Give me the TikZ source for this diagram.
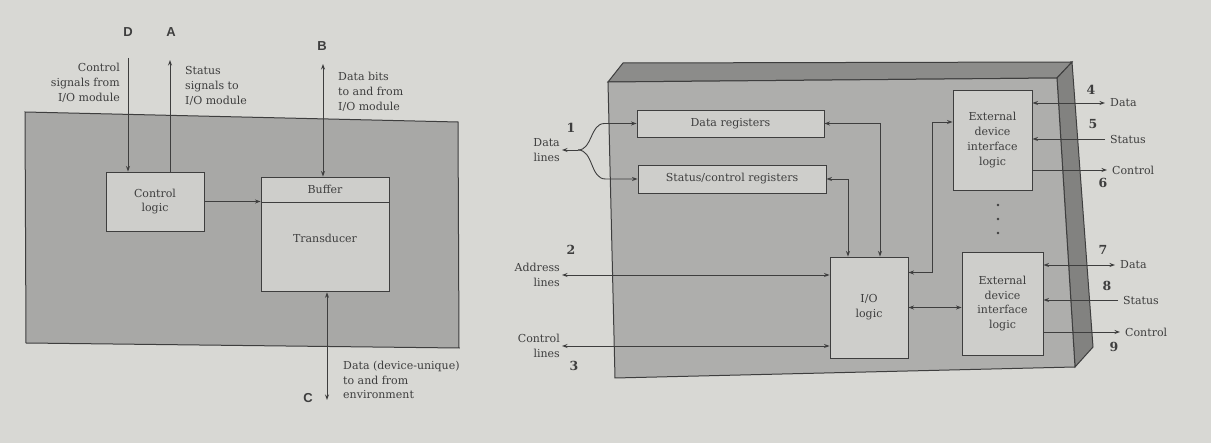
\documentclass[tikz,border=0pt]{standalone}
\usepackage{xcolor}
\usepackage{tikz}
\usepackage{fontspec}
\setmainfont{DejaVu Serif}
\newfontfamily\lettersf{Liberation Sans}
\usetikzlibrary{arrows.meta,calc}

\definecolor{paper}{RGB}{216,216,212}
\definecolor{panel}{RGB}{168,168,166}
\definecolor{boxfill}{RGB}{206,206,203}
\definecolor{inkgray}{RGB}{62,62,62}
\definecolor{topface}{RGB}{140,140,138}
\definecolor{sideface}{RGB}{130,130,128}
\definecolor{frontface}{RGB}{174,174,172}

\begin{document}
\begin{tikzpicture}[x=1pt,y=-1pt,>={Stealth[length=5.5pt,width=4pt]},
    every node/.style={text=inkgray,font=\fontsize{11}{14.8}\selectfont},
    unit/.style={draw=inkgray,fill=boxfill,line width=0.9pt,inner sep=0pt,align=center},
    lbl/.style={align=left,inner sep=2pt},
    sig/.style={anchor=west,inner sep=5pt},
    num/.style={font=\fontsize{12.5}{12.5}\selectfont\bfseries},
    port/.style={font=\fontsize{13}{13}\selectfont\lettersf\bfseries},
    conn/.style={draw=inkgray,line width=0.9pt}]

\useasboundingbox[fill=paper] (0,0) rectangle (1211,443);

% I/O device (left)
\draw[draw=inkgray,fill=panel,line width=1pt] (25,112) -- (458,122) -- (459,348) -- (26,343) -- cycle;
\node[unit,minimum width=98pt,minimum height=59pt] (ctrl) at (155,201.5) {Control\\logic};
\node[unit,minimum width=128pt,minimum height=25pt] (buffer) at (325,189.5) {Buffer};
\node[unit,minimum width=128pt,minimum height=89pt,anchor=north,text depth=18pt] (transd) at (buffer.south) {Transducer};

\coordinate (dtop) at (128,58);
\coordinate (atop) at (170,60);
\coordinate (btop) at (323,64);
\coordinate (cbot) at (327,400);
\draw[conn,->] (dtop) -- (dtop |- ctrl.north);
\draw[conn,->] (atop |- ctrl.north) -- (atop);
\draw[conn,<->] (btop) -- (btop |- buffer.north);
\draw[conn,<->] (cbot |- transd.south) -- (cbot);
\draw[conn,->] (ctrl.east) -- (ctrl.east -| buffer.west);

\node[lbl,align=right,anchor=east] (ctrlsig) at (122,83) {Control\\signals from\\I/O module};
\node[lbl,anchor=west] (statsig) at (183,86) {Status\\signals to\\I/O module};
\node[lbl,anchor=west] (databits) at (336,92) {Data bits\\to and from\\I/O module};
\node[lbl,anchor=west] (envdata) at (341,380) {Data (device-unique)\\to and from\\environment};
\node[port] (pD) at (128,32) {D};
\node[port] (pA) at (171,32) {A};
\node[port] (pB) at (322,46) {B};
\node[port] (pC) at (308,398) {C};

% I/O module (right)
\draw[draw=inkgray,fill=topface,line width=1pt] (608,82) -- (623,63) -- (1072,62) -- (1057,78) -- cycle;
\draw[draw=inkgray,fill=sideface,line width=1pt] (1057,78) -- (1072,62) -- (1093,347) -- (1075,367) -- cycle;
\draw[draw=inkgray,fill=frontface,line width=1pt] (608,82) -- (1057,78) -- (1075,367) -- (615,378) -- cycle;

\node[unit,minimum width=187pt,minimum height=27pt] (dreg) at (730.5,123.5) {Data registers};
\node[unit,minimum width=188pt,minimum height=28pt] (sreg) at (732,179) {Status/control registers};
\node[unit,minimum width=79pt,minimum height=100pt] (ext1) at (992.5,140) {External\\device\\interface\\logic};
\node[unit,minimum width=81pt,minimum height=103pt] (ext2) at (1002.5,303.5) {External\\device\\interface\\logic};
\node[unit,minimum width=78pt,minimum height=101pt] (io) at (869,307.5) {I/O\\logic};
\foreach \y in {205,219,233}
    \fill[inkgray] (998,\y) circle (1.4);

\node[lbl,align=right,anchor=east] (dlines) at (562,150) {Data\\lines};
\node[lbl,align=right,anchor=east] (alines) at (562,275) {Address\\lines};
\node[lbl,align=right,anchor=east] (clines) at (562,346) {Control\\lines};
\coordinate (br) at (578,150);
\draw[conn,->] (br) -- (dlines.east);
\draw[conn,->] (br) to[out=0,in=180] ([xshift=-32pt]dreg.west) -- (dreg.west);
\draw[conn,->] (br) to[out=0,in=180] ([xshift=-32pt]sreg.west) -- (sreg.west);
\draw[conn,<->] (alines.east) -- (alines.east -| io.west);
\draw[conn,<->] (clines.east) -- (clines.east -| io.west);

\draw[conn,<->] (dreg.east) -| ([xshift=11pt]io.north);
\draw[conn,<->] (sreg.east) -| ([xshift=-21pt]io.north);
\draw[conn,<->] ([yshift=35pt]io.east) -- ++(24,0) |- ([yshift=18pt]ext1.west);
\draw[conn,<->] (io.east) -- (io.east -| ext2.west);

\node[sig] (data4) at (1105,103) {Data};
\node[sig] (stat5) at (1105,139) {Status};
\node[sig] (ctl6) at (1107,170) {Control};
\draw[conn,<->] (data4.west -| ext1.east) -- (data4.west);
\draw[conn,->] (stat5.west) -- (stat5.west -| ext1.east);
\draw[conn,->] (ctl6.west -| ext1.east) -- (ctl6.west);

\node[sig] (data7) at (1115,265) {Data};
\node[sig] (stat8) at (1118,300) {Status};
\node[sig] (ctl9) at (1120,332) {Control};
\draw[conn,<->] (data7.west -| ext2.east) -- (data7.west);
\draw[conn,->] (stat8.west) -- (stat8.west -| ext2.east);
\draw[conn,->] (ctl9.west -| ext2.east) -- (ctl9.west);

\node[num] (n1) at (571,128) {1};
\node[num] (n2) at (571,250) {2};
\node[num] (n3) at (574,366) {3};
\node[num] (n4) at (1091,90) {4};
\node[num] (n5) at (1093,124) {5};
\node[num] (n6) at (1103,183) {6};
\node[num] (n7) at (1103,250) {7};
\node[num] (n8) at (1107,286) {8};
\node[num] (n9) at (1114,347) {9};
\end{tikzpicture}
\end{document}
